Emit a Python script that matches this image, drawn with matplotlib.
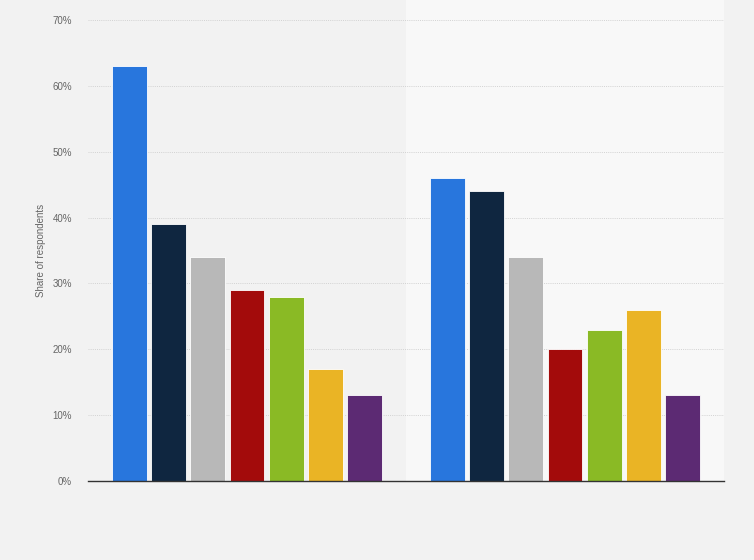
import numpy as np
import matplotlib
matplotlib.use('Agg')
import matplotlib.pyplot as plt
from matplotlib.ticker import FuncFormatter

plt.rcParams['font.family'] = ['Liberation Sans', 'DejaVu Sans']

groups = ['Group 1', 'Group 2']
series = ['A', 'B', 'C', 'D', 'E', 'F', 'G']
values = [
    [63, 39, 34, 29, 28, 17, 13],
    [46, 44, 34, 20, 23, 26, 13],
]
colors = ['#2876dd', '#0f2640', '#b8b8b8', '#a30b0b', '#8aba25', '#eab425', '#5c2a73']
yticks = [0, 10, 20, 30, 40, 50, 60, 70]

fig = plt.figure(figsize=(7.54, 5.60), dpi=100)
fig.patch.set_facecolor('#f2f2f2')
# axes spans from the zero line up to the top edge of the image
ax = fig.add_axes([88 / 754, 79 / 560, 636 / 754, 481 / 560])
ax.set_facecolor('#f2f2f2')

n = len(series)
pitch = 0.1233
width = 0.110
x = np.arange(len(groups))
for i in range(n):
    vals = [values[g][i] for g in range(len(groups))]
    ax.bar(x + (i - (n - 1) / 2) * pitch, vals, width=width, color=colors[i],
           edgecolor='#ffffff', linewidth=0.6, zorder=3)

# lighter band behind the second group
ax.axvspan(0.5, 1.5, color='#f8f8f8', zorder=0, lw=0)

ax.set_xlim(-0.5, 1.5)
ax.set_ylim(0, 70 * 481 / 461)
ax.set_yticks(yticks)
ax.yaxis.set_major_formatter(FuncFormatter(lambda v, p: f'{int(v)}%'))
ax.set_xticks([])
ax.grid(axis='y', linestyle=(0, (1, 1.2)), color='#d2d2d2', linewidth=0.7, zorder=1)
ax.tick_params(axis='y', length=0, pad=11.5, labelsize=7, labelcolor='#666666')

for s in ['top', 'right', 'left']:
    ax.spines[s].set_visible(False)
ax.spines['bottom'].set_color('#333333')
ax.spines['bottom'].set_linewidth(1.0)
ax.spines['bottom'].set_zorder(4)

ax.set_ylabel('Share of respondents', fontsize=7, color='#666666')
ax.yaxis.set_label_coords(-42 / 636, (481 - 250) / 481)

fig.savefig('out.png', dpi=100, facecolor=fig.get_facecolor())
